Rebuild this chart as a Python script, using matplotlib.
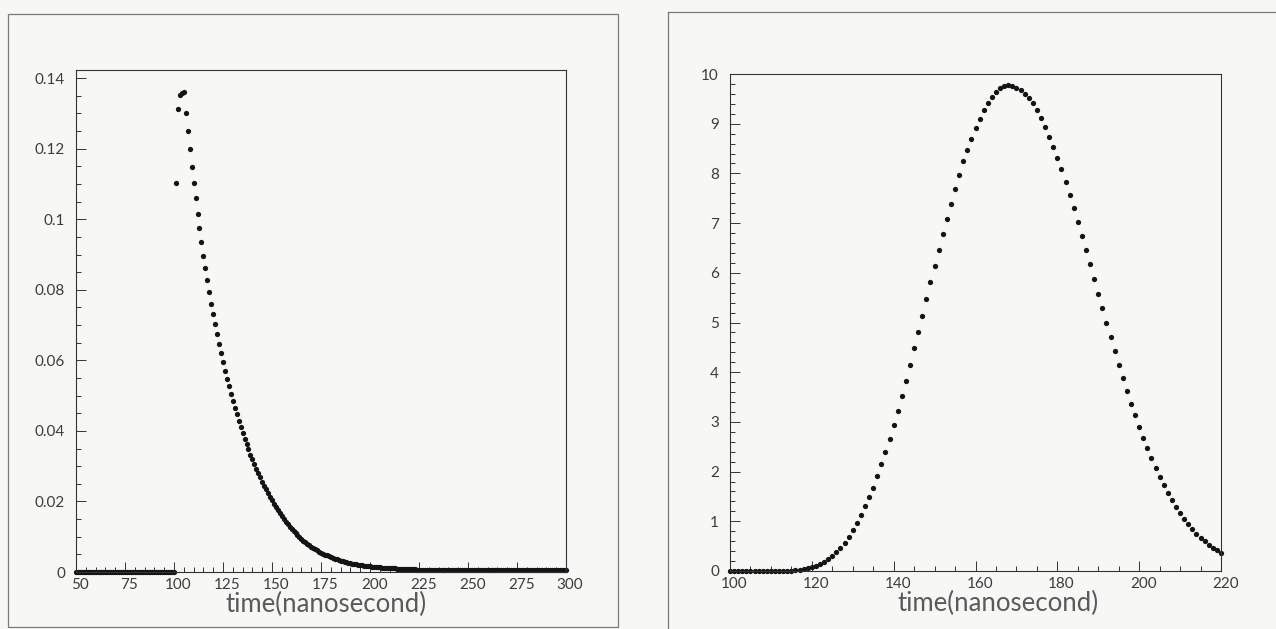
import matplotlib
matplotlib.use("Agg")
import matplotlib.pyplot as plt
import matplotlib.transforms as mtransforms
from matplotlib.patches import Rectangle
from matplotlib.lines import Line2D
from matplotlib.ticker import MultipleLocator, FixedLocator

# ---------------- data ----------------
# left panel: induced current vs time
baseline_t = list(range(50, 101))
baseline_v = [0.0] * len(baseline_t)

pulse_t = list(range(101, 301))
pulse_v = [
    # 101-120
    0.1104, 0.1312, 0.1352, 0.1357, 0.1360, 0.1301, 0.1249, 0.1199, 0.1149, 0.1103,
    0.1059, 0.1015, 0.0975, 0.0935, 0.0897, 0.0861, 0.0827, 0.0793, 0.0761, 0.0730,
    # 121-140
    0.0702, 0.0674, 0.0647, 0.0620, 0.0595, 0.0571, 0.0548, 0.0526, 0.0505, 0.0484,
    0.0465, 0.0447, 0.0428, 0.0411, 0.0394, 0.0378, 0.0363, 0.0348, 0.0333, 0.0319,
    # 141-160
    0.0306, 0.0293, 0.0280, 0.0268, 0.0256, 0.0245, 0.0234, 0.0223, 0.0213, 0.0203,
    0.0193, 0.0184, 0.0175, 0.0166, 0.0158, 0.0150, 0.0142, 0.0135, 0.0128, 0.0122,
    # 161-180
    0.0116, 0.0110, 0.0104, 0.0099, 0.0094, 0.0089, 0.0084, 0.0080, 0.0076, 0.0072,
    0.0068, 0.0064, 0.0061, 0.0058, 0.0055, 0.0052, 0.0049, 0.0047, 0.0044, 0.0042,
    # 181-200
    0.0040, 0.0038, 0.0036, 0.0034, 0.0032, 0.0031, 0.0029, 0.0028, 0.0026, 0.0025,
    0.0024, 0.0023, 0.0022, 0.0021, 0.0020, 0.0019, 0.0018, 0.0017, 0.0016, 0.0016,
    # 201-220
    0.0015, 0.0014, 0.0014, 0.0013, 0.0013, 0.0012, 0.0012, 0.0011, 0.0011, 0.0011,
    0.0010, 0.0010, 0.0010, 0.0009, 0.0009, 0.0009, 0.0009, 0.0008, 0.0008, 0.0008,
    # 221-240
    0.0008, 0.0008, 0.0008, 0.0007, 0.0007, 0.0007, 0.0007, 0.0007, 0.0007, 0.0007,
    0.0007, 0.0007, 0.0007, 0.0007, 0.0007, 0.0007, 0.0007, 0.0006, 0.0006, 0.0006,
    # 241-260
    0.0006, 0.0006, 0.0006, 0.0006, 0.0006, 0.0006, 0.0006, 0.0006, 0.0006, 0.0006,
    0.0006, 0.0006, 0.0006, 0.0006, 0.0006, 0.0006, 0.0006, 0.0006, 0.0006, 0.0006,
    # 261-280
    0.0006, 0.0006, 0.0006, 0.0006, 0.0006, 0.0006, 0.0006, 0.0006, 0.0006, 0.0006,
    0.0006, 0.0006, 0.0006, 0.0006, 0.0006, 0.0006, 0.0006, 0.0006, 0.0006, 0.0006,
    # 281-300
    0.0006, 0.0006, 0.0006, 0.0006, 0.0006, 0.0006, 0.0006, 0.0006, 0.0006, 0.0006,
    0.0006, 0.0006, 0.0006, 0.0006, 0.0006, 0.0006, 0.0006, 0.0006, 0.0006, 0.0006,
]

# right panel: shaped amplifier output vs time
shaped_t = list(range(100, 221))
shaped_v = [
    # 100-119
    0.00, 0.00, 0.00, 0.00, 0.00, 0.00, 0.00, 0.00, 0.00, 0.00,
    0.00, 0.00, 0.00, 0.01, 0.01, 0.01, 0.02, 0.03, 0.04, 0.06,
    # 120-139
    0.08, 0.11, 0.15, 0.19, 0.24, 0.30, 0.38, 0.47, 0.57, 0.69,
    0.83, 0.97, 1.13, 1.30, 1.48, 1.68, 1.91, 2.15, 2.40, 2.66,
    # 140-159
    2.94, 3.22, 3.52, 3.83, 4.15, 4.48, 4.80, 5.14, 5.47, 5.81,
    6.14, 6.46, 6.79, 7.09, 7.39, 7.69, 7.97, 8.24, 8.47, 8.70,
    # 160-179
    8.91, 9.09, 9.27, 9.41, 9.54, 9.64, 9.71, 9.75, 9.77, 9.76,
    9.72, 9.67, 9.60, 9.52, 9.41, 9.27, 9.11, 8.93, 8.74, 8.53,
    # 180-199
    8.31, 8.08, 7.83, 7.57, 7.30, 7.02, 6.74, 6.46, 6.17, 5.87,
    5.58, 5.29, 5.00, 4.71, 4.43, 4.15, 3.88, 3.62, 3.37, 3.13,
    # 200-220
    2.90, 2.68, 2.47, 2.27, 2.08, 1.90, 1.73, 1.57, 1.42, 1.29,
    1.16, 1.04, 0.94, 0.84, 0.75, 0.67, 0.60, 0.53, 0.47, 0.42,
    0.37,
]

left_yticks = [0, 0.02, 0.04, 0.06, 0.08, 0.1, 0.12, 0.14]
left_ylabels = ["0", "0.02", "0.04", "0.06", "0.08", "0.1", "0.12", "0.14"]
left_xticks = [50, 75, 100, 125, 150, 175, 200, 225, 250, 275, 300]
right_xticks = [100, 120, 140, 160, 180, 200, 220]
right_yticks = list(range(0, 11))
xlabel_text = "time(nanosecond)"

# ---------------- styling ----------------
W, H, DPI = 1276, 629, 100
paper = "#f7f7f6"
ink = "#141414"
text_col = "#3c3c3c"
frame_col = "#7a7a7a"
font = ["Lato", "DejaVu Sans"]

fig = plt.figure(figsize=(W / DPI, H / DPI), dpi=DPI, facecolor=paper)


def fx(px):
    return px / W


def fy(py):
    return 1 - py / H


# page frames around each panel
fig.add_artist(Rectangle((fx(8), fy(627)), fx(610), fy(14) - fy(627),
                         fill=False, lw=0.9, ec=frame_col, transform=fig.transFigure))
fig.add_artist(Line2D([fx(668), fx(668)], [fy(12), 0], lw=0.9, color=frame_col,
                      transform=fig.transFigure))
fig.add_artist(Line2D([fx(668), 1], [fy(12), fy(12)], lw=0.9, color=frame_col,
                      transform=fig.transFigure))


def style_axes(ax):
    ax.set_facecolor(paper)
    for side in ("top", "right", "left", "bottom"):
        ax.spines[side].set_color("#333333")
        ax.spines[side].set_linewidth(0.8)
    ax.tick_params(which="both", direction="in", top=False, right=False,
                   colors="#333333", labelcolor=text_col, labelsize=11, width=0.7)
    ax.tick_params(which="major", length=7)
    ax.tick_params(which="minor", length=3.5)
    ax.tick_params(axis="y", pad=8)
    ax.tick_params(axis="x", pad=4)
    # x tick labels sit slightly to the right of their ticks
    shift = mtransforms.ScaledTranslation(3 / 72, 0, fig.dpi_scale_trans)
    for lab in ax.get_xticklabels():
        lab.set_transform(lab.get_transform() + shift)
    for lab in ax.get_xticklabels() + ax.get_yticklabels():
        lab.set_family(font)
        lab.set_fontweight("normal")


def axis_title(ax, x):
    # place the title just under the tick labels, in pixels below the axes
    off = mtransforms.ScaledTranslation(0, -20 / DPI, fig.dpi_scale_trans)
    ax.text(x, 0, xlabel_text, transform=ax.transAxes + off, ha="center", va="top",
            fontsize=18.5, color="#5a5a5a", family=font, fontweight="normal")


# left panel
axL = fig.add_axes([fx(76), fy(572), fx(490), fy(70) - fy(572)])
axL.plot(baseline_t, baseline_v, "o", ms=3.8, color=ink, mec="none", clip_on=False)
axL.plot(pulse_t, pulse_v, "o", ms=3.8, color=ink, mec="none", clip_on=False)
axL.set_xlim(50, 300)
axL.set_ylim(0, 0.1423)
axL.xaxis.set_major_locator(FixedLocator(left_xticks))
axL.xaxis.set_minor_locator(MultipleLocator(5))
axL.yaxis.set_major_locator(FixedLocator(left_yticks))
axL.set_yticklabels(left_ylabels)
axL.yaxis.set_minor_locator(MultipleLocator(0.005))
style_axes(axL)
axis_title(axL, 0.51)

# right panel
axR = fig.add_axes([fx(730), fy(571), fx(491), fy(74) - fy(571)])
axR.plot(shaped_t, shaped_v, "o", ms=3.8, color=ink, mec="none", clip_on=False)
axR.set_xlim(100, 220)
axR.set_ylim(0, 10)
axR.xaxis.set_major_locator(FixedLocator(right_xticks))
axR.xaxis.set_minor_locator(MultipleLocator(5))
axR.yaxis.set_major_locator(FixedLocator(right_yticks))
axR.yaxis.set_minor_locator(MultipleLocator(0.2))
style_axes(axR)
axis_title(axR, 0.545)

fig.savefig("out.png", dpi=DPI, facecolor=paper)
